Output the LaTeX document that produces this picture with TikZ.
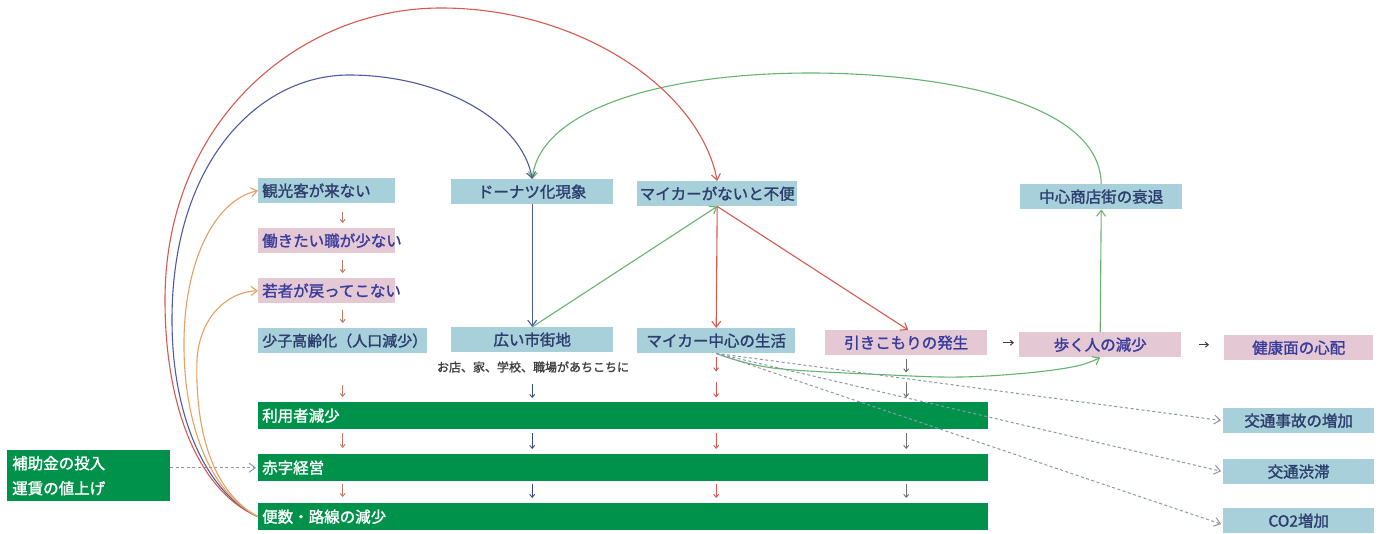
\documentclass[tikz,border=0pt]{standalone}
\usepackage{fontspec}
\newfontfamily\jp{Noto Sans CJK JP}[AutoFakeBold=1.6]
\usetikzlibrary{arrows.meta}
\definecolor{lbfill}{HTML}{A8D0DA}
\definecolor{pkfill}{HTML}{E4C8D3}
\definecolor{gfill}{HTML}{00924A}
\definecolor{navytxt}{HTML}{2D3E6E}
\definecolor{pktxt}{HTML}{3A3C9C}
\definecolor{redc}{HTML}{D65A50}
\definecolor{bluec}{HTML}{505AA0}
\definecolor{greenc}{HTML}{66B46E}
\definecolor{orangec}{HTML}{E6A064}
\definecolor{dashc}{HTML}{8C98A8}
\definecolor{brownc}{HTML}{C07A66}
\definecolor{navyar}{HTML}{3A4A7A}
\definecolor{greyar}{HTML}{707070}
\definecolor{omisec}{HTML}{404040}
\begin{document}
\begin{tikzpicture}[x=1pt,y=-1pt,
 base/.style={font=\jp\bfseries\fontsize{15.5}{15.5}\selectfont, inner ysep=0pt, minimum height=25pt, anchor=north west},
 bbox/.style={base, fill=lbfill, text=navytxt},
 pbox/.style={base, fill=pkfill, text=pktxt},
 gbar/.style={base, fill=gfill, text=white, minimum height=27pt},
 lft/.style={text width=#1, align=left, inner xsep=4pt},
 ctr/.style={minimum width=#1, inner xsep=0pt},
 sar/.style={-{Straight Barb[length=3pt,width=5pt]}, line width=0.9pt},
 con/.style={-{Straight Barb[length=6pt,width=9pt]}, line width=1.1pt},
 dsh/.style={-{Straight Barb[length=6pt,width=9pt]}, line width=1pt, dash pattern=on 3pt off 2.5pt, dashc}
]
\useasboundingbox (0,0) rectangle (1383,533);
\fill[white] (0,0) rectangle (1383,533);

% left column
\node[bbox, lft=129pt] (kankou) at (258,178) {観光客が来ない};
\node[pbox, lft=129pt] (hatara) at (258,228) {働きたい職が少ない};
\node[pbox, lft=129pt] (waka) at (258,278) {若者が戻ってこない};
\node[bbox, lft=161pt, font=\jp\bfseries\fontsize{15}{15}\selectfont] (shoushi) at (258,328) {少子高齢化（人口減少）};

% upper row
\node[bbox, ctr=162pt] (donut) at (451,179) {ドーナツ化現象};
\node[bbox, ctr=160pt] (mycar) at (637,181) {マイカーがないと不便};
\node[bbox, ctr=162pt] (chushin) at (1020,184) {中心商店街の衰退};

% middle row
\node[bbox, ctr=162pt] (hiroi) at (451,327) {広い市街地};
\node[font=\jp\bfseries\fontsize{12}{12}\selectfont, text=omisec, inner sep=1pt] (omise) at (533,367) {お店、家、学校、職場があちこちに};
\node[bbox, ctr=158pt] (mylife) at (637,328) {マイカー中心の生活};
\node[pbox, ctr=162pt] (hiki) at (825,330) {引きこもりの発生};
\node[pbox, ctr=162pt] (aruku) at (1019,332) {歩く人の減少};
\node[pbox, ctr=149pt] (kenkou) at (1224,335) {健康面の心配};

% right column
\node[bbox, ctr=151pt] (jiko) at (1223,408) {交通事故の増加};
\node[bbox, ctr=151pt] (jutai) at (1223,459) {交通渋滞};
\node[bbox, ctr=151pt] (co2) at (1223,508) {CO2増加};

% green bars
\node[gbar, lft=722pt] (riyou) at (258,402) {利用者減少};
\node[gbar, lft=722pt] (akaji) at (258,454) {赤字経営};
\node[gbar, lft=722pt] (binsu) at (258,503) {便数・路線の減少};
\node[base, fill=gfill, text=white, text width=153pt, align=left, inner xsep=5pt, minimum height=51pt, font=\jp\bfseries\fontsize{15.5}{25}\selectfont] (hojo) at (7,450) {補助金の投入\\運賃の値上げ};

% small arrows, left column
\draw[sar, brownc, shorten <=9pt, shorten >=5pt] ([xshift=16pt]kankou.south) -- ([xshift=16pt]hatara.north);
\draw[sar, brownc, shorten <=7pt, shorten >=5pt] ([xshift=16pt]hatara.south) -- ([xshift=16pt]waka.north);
\draw[sar, brownc, shorten <=7pt, shorten >=5pt] ([xshift=16pt]waka.south) -- ([xshift=16pt]waka.south |- shoushi.north);
\draw[sar, brownc, shorten <=32pt, shorten >=5pt] ([xshift=16pt]waka.south |- shoushi.south) -- ([xshift=16pt]waka.south |- riyou.north);
\draw[sar, brownc, shorten <=4pt, shorten >=6pt] ([xshift=16pt]waka.south |- riyou.south) -- ([xshift=16pt]waka.south |- akaji.north);
\draw[sar, brownc, shorten <=3pt, shorten >=6pt] ([xshift=16pt]waka.south |- akaji.south) -- ([xshift=16pt]waka.south |- binsu.north);

% small arrows under hiroi
\draw[sar, navyar, shorten <=10pt, shorten >=4pt] (omise.south -| hiroi.south) -- (hiroi.south |- riyou.north);
\draw[sar, navyar, shorten <=4pt, shorten >=5pt] (hiroi.south |- riyou.south) -- (hiroi.south |- akaji.north);
\draw[sar, navyar, shorten <=3pt, shorten >=5pt] (hiroi.south |- akaji.south) -- (hiroi.south |- binsu.north);

% small arrows under mylife
\draw[sar, redc] ([yshift=-4pt]mylife.south) -- ++(0,14);
\draw[sar, redc] ([yshift=-29pt]mylife.south) -- ++(0,15);
\draw[sar, redc, shorten <=4pt, shorten >=5pt] (mylife.south |- riyou.south) -- (mylife.south |- akaji.north);
\draw[sar, redc, shorten <=3pt, shorten >=5pt] (mylife.south |- akaji.south) -- (mylife.south |- binsu.north);

% small arrows under hiki
\draw[sar, greyar] ([yshift=-4pt]hiki.south) -- ++(0,13);
\draw[sar, greyar] ([yshift=-27pt]hiki.south) -- ++(0,15);
\draw[sar, greyar, shorten <=4pt, shorten >=5pt] (hiki.south |- riyou.south) -- (hiki.south |- akaji.north);
\draw[sar, greyar, shorten <=3pt, shorten >=5pt] (hiki.south |- akaji.south) -- (hiki.south |- binsu.north);

% horizontal small arrows
\draw[sar, omisec, line width=1pt, shorten <=16pt, shorten >=5pt] (hiki.east) -- (hiki.east -| aruku.west);
\draw[sar, omisec, line width=1pt, shorten <=18pt, shorten >=15pt] (aruku.east) -- (aruku.east -| kenkou.west);

% main connectors
\draw[con, bluec] (donut.south) -- (hiroi.north);
\draw[con, greenc] (hiroi.north) -- (mycar.south);
\draw[con, redc] (mycar.south) -- (mylife.north);
\draw[con, redc] (mycar.south) -- ([xshift=2pt]hiki.north);
\draw[con, greenc] (aruku.north) -- (chushin.south);
\draw[con, greenc] (chushin.north) .. controls (1100,95) and (920,73) .. (811,73) .. controls (660,73) and (540,110) .. (donut.north);
\draw[con, greenc] plot[smooth, tension=0.6] coordinates {(mylife.south) (773,368) (890,375) (960,377) (1027,373) (1077,366) (aruku.south)};

% dashed connectors
\draw[dsh, shorten >=2pt] (mylife.south) -- (jiko.west);
\draw[dsh, shorten >=2pt] (mylife.south) -- (jutai.west);
\draw[dsh, shorten >=2pt] (mylife.south) -- ([yshift=-4pt]co2.west);
\draw[dsh, shorten >=2pt] (hojo.east |- akaji.west) -- (akaji.west);

% long curves from binsu
\draw[con, redc] (binsu.west) .. controls (200,492) and (165,410) .. (165,300)
  .. controls (165,120) and (300,8) .. (441,8)
  .. controls (580,8) and (700,90) .. (mycar.north);
\draw[con, bluec] (binsu.west) .. controls (205,492) and (172,415) .. (172,320)
  .. controls (172,160) and (260,75) .. (349,75)
  .. controls (440,75) and (522,120) .. (donut.north);
\draw[con, orangec] (binsu.west) .. controls (208,492) and (183,420) .. (184,340)
  .. controls (185,260) and (215,200) .. (kankou.west);
\draw[con, orangec] (binsu.west) .. controls (212,492) and (195,430) .. (197,360)
  .. controls (199,320) and (225,292) .. (waka.west);
\end{tikzpicture}
\end{document}
